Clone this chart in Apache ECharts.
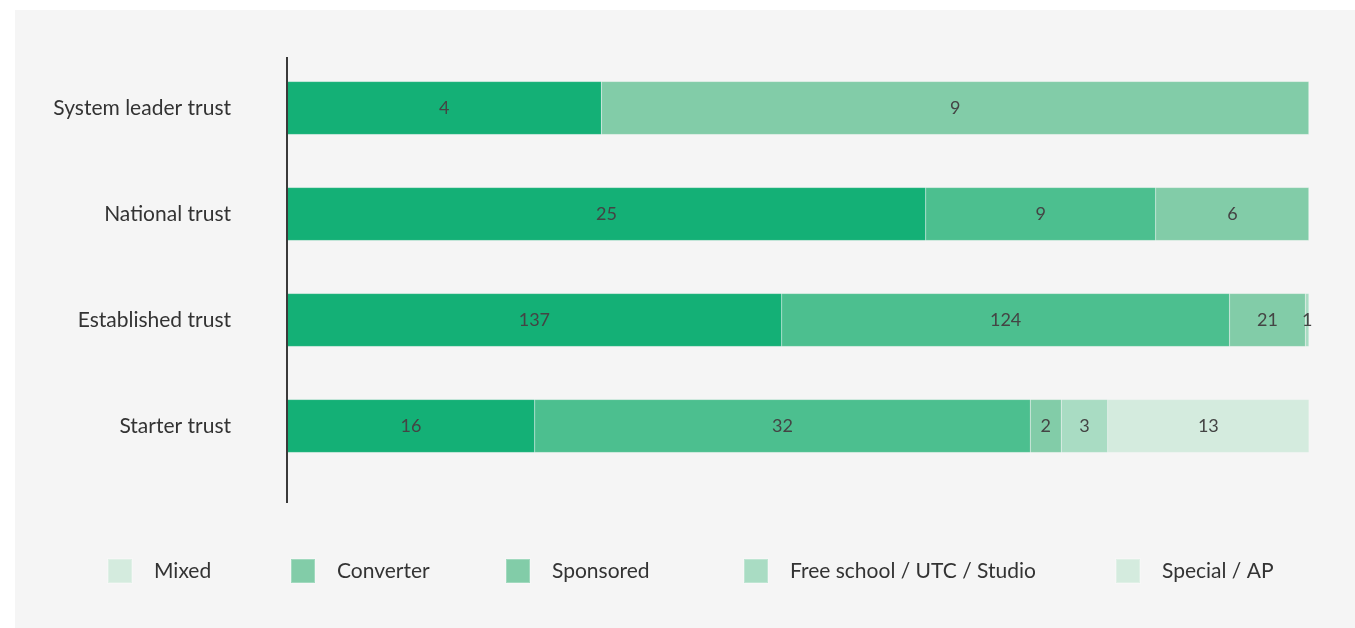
<!DOCTYPE html>
<html>
<head>
<meta charset="utf-8">
<script src="https://cdn.jsdelivr.net/npm/echarts@6/dist/echarts.min.js"></script>
<style>
  html, body { margin: 0; padding: 0; background: #fff; }
  #chart { position: absolute; left: 15px; top: 10px; width: 1340px; height: 618px; background: #f5f5f5; }
</style>
</head>
<body>
<div id="chart"></div>
<script>
var categories = ['System leader trust', 'National trust', 'Established trust', 'Starter trust'];

var seriesNames = ['Mixed', 'Converter', 'Sponsored', 'Free school / UTC / Studio', 'Special / AP'];

// raw counts per category, one array per segment (top to bottom order of categories)
var seg1 = [4, 25, 137, 16];
var seg2 = [0, 9, 124, 32];
var seg3 = [9, 6, 21, 2];
var seg4 = [0, 0, 1, 3];
var seg5 = [0, 0, 0, 13];

var barColors = ['#14b076', '#4cbf8f', '#82cca8', '#a9dcc3', '#d4ebde'];
var legendColors = ['#d4ebde', '#82cca8', '#82cca8', '#a9dcc3', '#d4ebde'];
var legendLeft = [87, 270, 485, 723, 1095];

var segments = [seg1, seg2, seg3, seg4, seg5];
var totals = categories.map(function (c, i) {
  var t = 0;
  for (var s = 0; s < segments.length; s++) t += segments[s][i];
  return t;
});

var font = 'Lato';

var series = segments.map(function (seg, s) {
  return {
    name: seriesNames[s],
    type: 'bar',
    stack: 'total',
    barWidth: '50%',
    itemStyle: { color: barColors[s], borderColor: 'rgba(255,255,255,0.25)', borderWidth: 0.5 },
    label: {
      show: true,
      position: 'inside',
      color: '#444',
      fontSize: 18,
      fontFamily: font,
      formatter: function (p) { return p.data.raw > 0 ? p.data.raw : ''; }
    },
    emphasis: { disabled: true },
    data: seg.map(function (v, i) {
      return { value: v / totals[i] * 100, raw: v };
    })
  };
});

var legends = seriesNames.map(function (n, s) {
  return {
    left: legendLeft[s],
    top: 543,
    itemWidth: 24,
    itemHeight: 24,
    icon: 'rect',
    selectedMode: false,
    textStyle: { fontSize: 21, color: '#333', fontFamily: font, padding: [0, 0, 0, 17] },
    data: [{ name: n, itemStyle: { color: legendColors[s] } }]
  };
});

var chart = echarts.init(document.getElementById('chart'));
chart.setOption({
  backgroundColor: '#f5f5f5',
  animation: false,
  legend: legends,
  grid: { left: 272, right: 46, top: 45, height: 424 },
  xAxis: {
    type: 'value',
    min: 0,
    max: 100,
    show: false
  },
  yAxis: {
    type: 'category',
    inverse: true,
    data: categories,
    axisLine: { show: false },
    axisTick: { show: false },
    axisLabel: { color: '#333', fontSize: 21, fontFamily: font, margin: 56 }
  },
  graphic: [{
    type: 'line',
    shape: { x1: 272, y1: 47, x2: 272, y2: 493 },
    style: { stroke: '#3a3a3a', lineWidth: 2 },
    z: 10
  }],
  series: series
});
</script>
</body>
</html>
